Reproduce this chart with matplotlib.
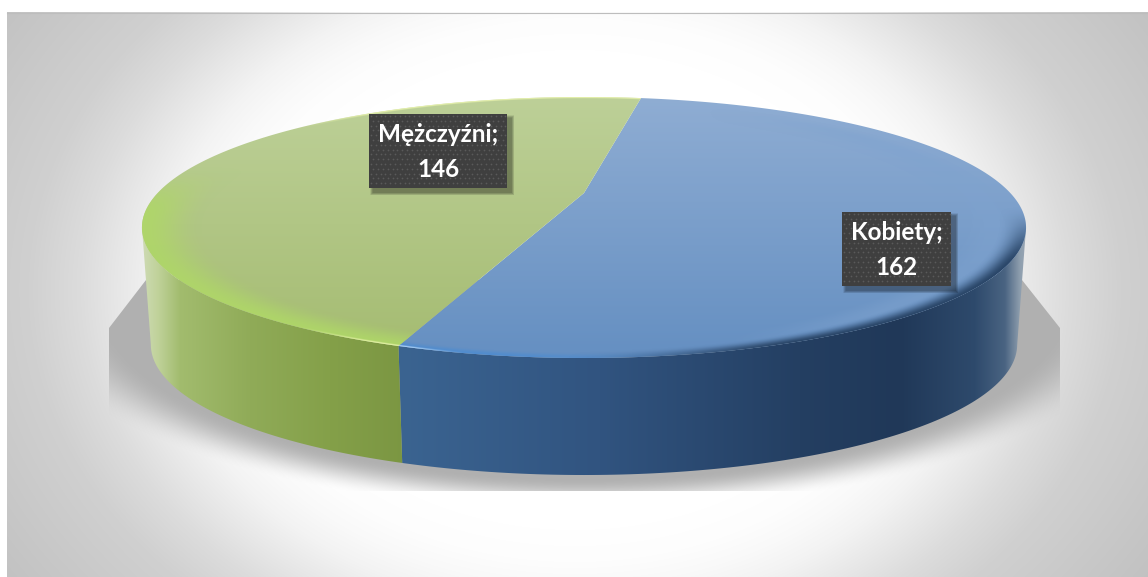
#!/usr/bin/env python3
import numpy as np
import matplotlib
matplotlib.use("Agg")
import matplotlib.pyplot as plt
from matplotlib.colors import to_rgb
from matplotlib.patches import Polygon, Rectangle

categories = ["Kobiety", "Mężczyźni"]
values = [162, 146]
label_boxes = [(842, 212, 109, 74), (369, 114, 138, 74)]

top_colors = [("#8FADD3", "#6690C2"), ("#BDD098", "#A5BC72")]
rim_colors = ["#4F8CCF", "#AFD768"]
side_stops = [
    [(398, "#3B6491"), (600, "#315480"), (800, "#243F62"), (900, "#203858"),
     (975, "#2E4A6C"), (1005, "#4A6482"), (1020, "#8E9EAE"), (1030, "#A0ACB8")],
    [(140, "#D0DCB8"), (158, "#C0D29A"), (180, "#A2BC6E"), (250, "#90AB58"),
     (330, "#84A049"), (405, "#7B9642")],
]
bg_radius = [0.60, 0.68, 0.74, 0.80, 0.88, 0.95, 1.05, 1.4]
bg_drop = [0, 2, 6, 12, 24, 35, 47, 66]

# pie geometry in pixels (the top face is a circle seen in perspective)
CX, CY = 584, 193
WARP = 0.2644
SLOPE = -70.35
SCALE = 426.3
DEPTH = 117
BOTTOM_SHRINK = 0.98
START = 9.7

W, H = 1148, 577
gx, gy = np.meshgrid(np.arange(W) + 0.5, np.arange(H) + 0.5)


def project(deg):
    t = np.radians(deg)
    u, v = np.sin(t), np.cos(t)
    den = 1 + WARP * v
    return CX + SCALE * u / den, (SLOPE * v + CY) / den


def smooth(a, b, x):
    s = np.clip((x - a) / (b - a), 0, 1)
    return s * s * (3 - 2 * s)


def show(ax, img, clip=None, z=1):
    im = ax.imshow(img, extent=(0, W, H, 0), aspect="auto", zorder=z,
                   interpolation="bilinear")
    if clip is not None:
        patch = Polygon(clip, closed=True, transform=ax.transData)
        im.set_clip_path(patch)
    return im


def solid(color, alpha):
    img = np.zeros((H, W, 4))
    img[..., :3] = to_rgb(color)
    img[..., 3] = alpha
    return img


def main():
    fig = plt.figure(figsize=(W / 100, H / 100), dpi=100)
    ax = fig.add_axes([0, 0, 1, 1])
    ax.set_xlim(0, W)
    ax.set_ylim(H, 0)
    ax.axis("off")

    # background: white plateau in the middle, grey towards the edges
    rr = np.sqrt(((gx - 575) / 520) ** 2 + ((gy - 290) / 400) ** 2)
    grey = (255 - np.interp(rr, bg_radius, bg_drop)) / 255
    show(ax, np.dstack([grey, grey, grey]),
         clip=[(7, 12), (W, 12), (W, H), (7, H)], z=0)
    ax.plot([7, W], [12.5, 12.5], color="#BDBDBD", lw=0.8, zorder=0.5)

    # floor shadow, cut off by a hard polygon like the original
    r = np.sqrt(((gx - 584) / 553) ** 2 + ((gy - 300) / 205) ** 2)
    show(ax, solid("#B0B0B0", 1 - smooth(0.87, 1.03, r)),
         clip=[(146, 280), (109, 328), (109, 491), (1060, 491), (1060, 328), (1022, 280)],
         z=1)

    # wedge angles come from the values
    shares = np.array(values) / sum(values) * 360
    edges = START + np.concatenate([[0], np.cumsum(shares)])

    er = np.sqrt(((gx - 584) / 442) ** 2 + ((gy - 227.5) / 130.5) ** 2)

    for i in range(len(values)):
        arc = np.linspace(edges[i], edges[i + 1], 240)
        ax_x, ax_y = project(arc)

        # side wall, only the part of the rim that faces the viewer
        if i == 0:
            ax_x, ax_y = ax_x[np.argmax(ax_x):], ax_y[np.argmax(ax_x):]
        else:
            ax_x, ax_y = ax_x[:np.argmin(ax_x) + 1], ax_y[:np.argmin(ax_x) + 1]
        stops = side_stops[i]
        xs = [s[0] for s in stops]
        cols = np.array([to_rgb(s[1]) for s in stops])
        side = np.dstack([np.interp(gx, xs, cols[:, k]) for k in range(3)])
        low_x = CX + (ax_x - CX) * BOTTOM_SHRINK
        low_y = ax_y + DEPTH
        wall = list(zip(ax_x, ax_y)) + list(zip(low_x[::-1], low_y[::-1]))
        show(ax, side, clip=wall, z=2)

    for i in range(len(values)):
        arc = np.linspace(edges[i], edges[i + 1], 240)
        ax_x, ax_y = project(arc)
        face = list(zip(ax_x, ax_y)) + [(CX, CY)]

        # top face, vertical gradient
        c0, c1 = map(np.array, map(to_rgb, top_colors[i]))
        s = np.clip((gy - 97) / (350 - 97), 0, 1)[..., None]
        show(ax, c0 * (1 - s) + c1 * s, clip=face, z=3)

        # bevel along the front edge
        front = smooth(200, 290, gy)
        if i == 0:
            # blue rim is bright on the left and goes dark and soft on the right
            fade = 1 - smooth(470, 760, gx)
            show(ax, solid(rim_colors[i], 0.9 * front * fade * smooth(0.955, 0.995, er)),
                 clip=face, z=4)
            show(ax, solid("#7FA3CF", 0.5 * smooth(700, 900, gx) * smooth(0.84, 0.93, er)
                           * (1 - smooth(0.93, 0.97, er))), clip=face, z=4)
            show(ax, solid("#2A4668", smooth(560, 800, gx) * smooth(205, 265, gy)
                           * smooth(0.93, 1.0, er) ** 1.5), clip=face, z=5)
            show(ax, solid("#BFE0FF", 0.9 * (1 - smooth(400, 470, gx))
                           * smooth(0.985, 1.0, er)), clip=face, z=5)
        else:
            show(ax, solid(rim_colors[i], 0.9 * smooth(165, 215, gy) * smooth(0.86, 1.0, er)),
                 clip=face, z=4)
            show(ax, solid("#EEF7B0", 0.9 * smooth(290, 385, gx)
                           * smooth(0.985, 1.0, er)), clip=face, z=5)

    # data labels
    for box, cat, val in zip(label_boxes, categories, values):
        x, y, w, h = box
        for grow in range(6, 0, -1):
            ax.add_patch(Rectangle((x + 4 - grow / 2, y + 4 - grow / 2), w + grow, h + grow,
                                   fc="black", ec="none", alpha=0.07, zorder=6))
        ax.add_patch(Rectangle((x, y), w, h, fc="#3F3F3F", ec="none", zorder=7))
        dx, dy = np.meshgrid(np.arange(x + 2, x + w, 4.8), np.arange(y + 2, y + h, 4.8))
        dx[1::2] += 2.4
        keep = dx < x + w - 0.5
        ax.scatter(dx[keep], dy[keep], s=1.6, c="#5A5A5A", linewidths=0, zorder=8)
        ax.text(x + w / 2, y + h / 2 + 1, f"{cat};\n{val}", color="white", family="Lato",
                weight="bold", fontsize=17.5, ha="center", va="center",
                linespacing=1.6, zorder=9)

    fig.savefig("out.png", dpi=100)


if __name__ == "__main__":
    main()
